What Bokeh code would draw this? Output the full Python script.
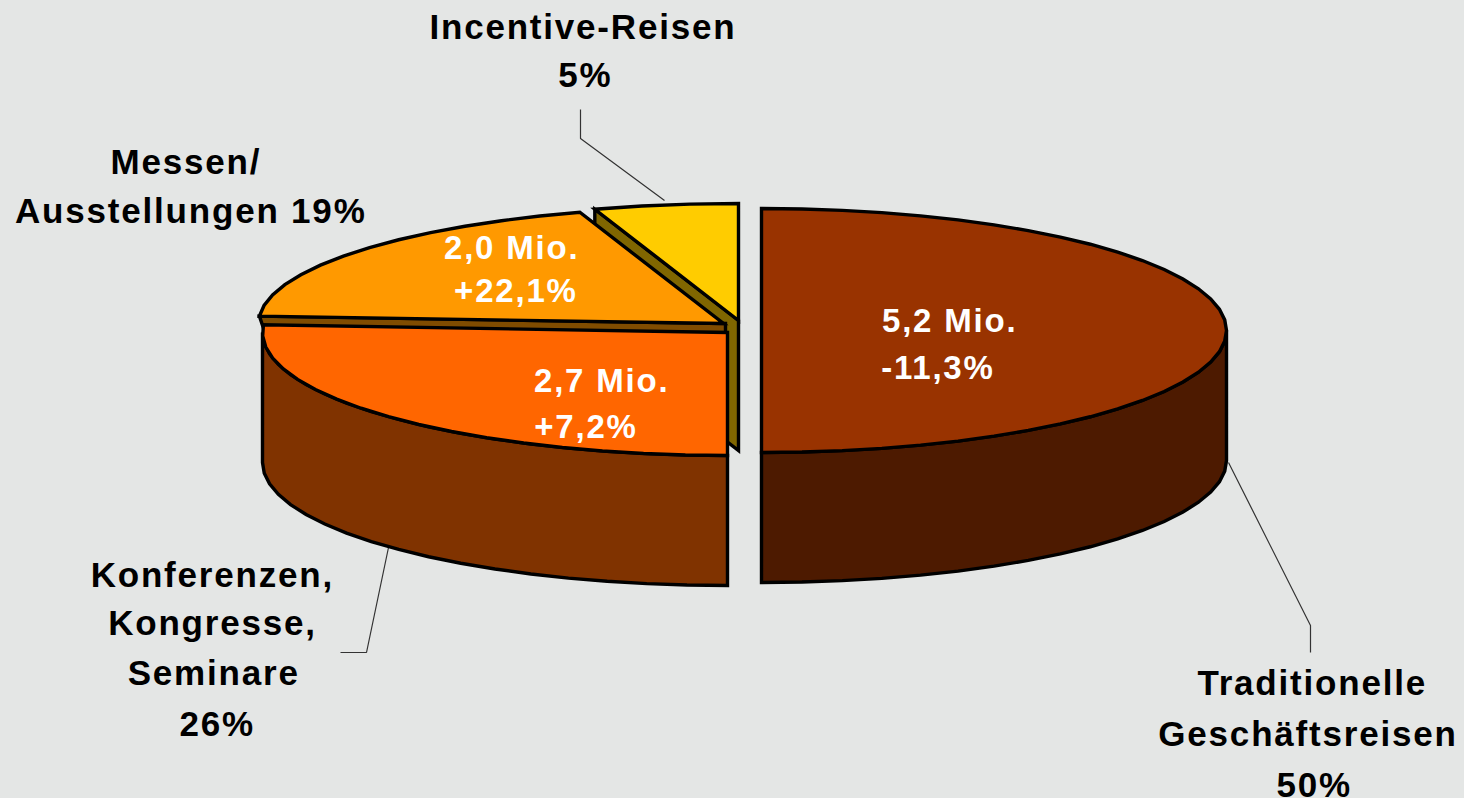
import math
from bokeh.plotting import figure
from bokeh.embed import file_html
from bokeh.resources import INLINE
from bokeh.core.properties import value

# ---- data
categories = ["Traditionelle Geschäftsreisen", "Konferenzen, Kongresse, Seminare",
              "Messen/Ausstellungen", "Incentive-Reisen"]
shares = [50, 26, 19, 5]
top_colors = ["#993300", "#FF6600", "#FF9900", "#FFCC00"]
side_colors = ["#4D1A00", "#803300", "#804C00", "#806600"]

# ---- layout (pixel space of the page)
W, H = 1464, 798
BG = "#E4E6E5"
RX, DEPTH = 465, 130
centers = [(761, 330, 122), (727, 332, 123), (723, 323, 117), (738, 320, 117)]
LW = 3.4
FONT = value("Liberation Sans")

p = figure(width=W, height=H, x_range=(0, W), y_range=(H, 0),
           toolbar_location=None, output_backend="svg",
           min_border=0, outline_line_color=None,
           background_fill_color=BG, border_fill_color=BG)
p.axis.visible = False
p.grid.visible = False


def pt(c, t):
    cx, cy, ry = c
    a = math.radians(t)
    return cx + RX * math.sin(a), cy - ry * math.cos(a)


def arc(c, t0, t1, dy=0):
    n = max(2, int(abs(t1 - t0) / 5))
    out = [pt(c, t0 + (t1 - t0) * i / n) for i in range(n + 1)]
    return [(x, y + dy) for x, y in out]


def poly(points, color):
    p.patch([q[0] for q in points], [q[1] for q in points], fill_color=color,
            line_color="black", line_width=LW, line_join="miter")


def leader(xs, ys):
    p.line(xs, ys, line_color="#333333", line_width=1.2)


# angular spans from the shares
spans = []
start = 0.0
for s in shares:
    spans.append((start, start + s * 3.6))
    start += s * 3.6

# leader lines
leader([580, 580, 664], [109, 138, 200])
leader([1228, 1310, 1310], [462, 625, 652])
leader([388, 366, 340], [547, 652, 652])

# Incentive slice: cut face (behind everything)
c3 = centers[3]
tip = pt(c3, spans[3][0])
apex = (c3[0], c3[1])
poly([tip, apex, (apex[0], apex[1] + DEPTH), (tip[0], tip[1] + DEPTH)], side_colors[3])

# Messen slice: thin cut face, then its top
c2 = centers[2]
c1 = centers[1]
tip2 = pt(c2, spans[2][0])
lower_x = pt(c1, spans[1][1])[0]
poly([tip2, (c2[0] + 2, c2[1]), (c2[0] + 2, c2[1] + 12), (lower_x, tip2[1] + 12)], side_colors[2])
poly([(c2[0], c2[1])] + arc(c2, *spans[2]), top_colors[2])

# Incentive top
poly([apex] + arc(c3, *spans[3]), top_colors[3])

# Konferenzen slice
t0, t1 = spans[1]
poly(arc(c1, t0, 270) + arc(c1, 270, t0, DEPTH), side_colors[1])
poly([(c1[0], c1[1])] + arc(c1, t0, t1), top_colors[1])

# Traditionelle slice
c0 = centers[0]
t0, t1 = spans[0]
poly(arc(c0, 90, t1) + arc(c0, t1, 90, DEPTH), side_colors[0])
poly([(c0[0], c0[1])] + arc(c0, t0, t1), top_colors[0])

# ---- texts
black_labels = [
    ("Incentive-Reisen", 568, 26), ("5%", 583, 74),
    ("Messen/", 179, 161), ("Ausstellungen 19%", 175, 210),
    ("Konferenzen,", 201, 574), ("Kongresse,", 203, 622), ("Seminare", 206, 672), ("26%", 214, 723),
    ("Traditionelle", 1300, 682), ("Geschäftsreisen", 1294, 733), ("50%", 1311, 784),
]
white_labels = [
    ("5,2 Mio.", 942, 320), ("-11,3%", 932, 367),
    ("2,0 Mio.", 504, 247), ("+22,1%", 510, 290),
    ("2,7 Mio.", 594, 380), ("+7,2%", 581, 426),
]
for labels, col, size in ((black_labels, "black", "35px"), (white_labels, "white", "33px")):
    p.text([l[1] for l in labels], [l[2] for l in labels], text=[l[0] for l in labels],
           text_color=col, text_font=FONT, text_font_style="bold", text_font_size=size,
           text_align="center", text_baseline="alphabetic")

template = """{% block postamble %}<style>html,body{margin:0;padding:0;background:#E4E6E5;overflow:hidden;letter-spacing:1.8px}</style>{% endblock %}
"""
open("out.html", "w").write(file_html(p, INLINE, template=template))
